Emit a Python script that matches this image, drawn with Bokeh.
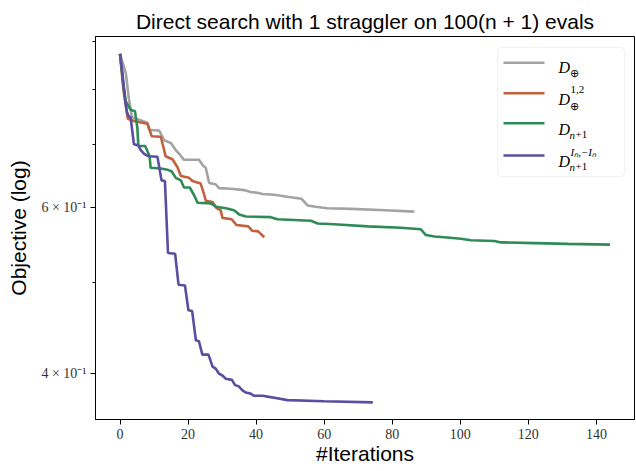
from bokeh.plotting import figure
from bokeh.models import Range1d, FixedTicker, Label, BoxAnnotation, Arrow
from bokeh.embed import file_html
from bokeh.resources import INLINE

# ---- data ----
gray_x = [0, 1.7, 2.6, 3.5, 8.0, 8.6, 11.5, 13.0, 15.0, 16.4, 17.4, 18.8, 23.2, 24.5, 25.2, 26.2, 28.1, 29.1,
          32.6, 36.5, 38.4, 40.4, 41.9, 45.3, 49.2, 53.3, 55.1, 57.5, 61.0, 67.9, 78.0, 86.5]
gray_y = [0.873, 0.833, 0.783, 0.748, 0.738, 0.725, 0.724, 0.707, 0.702, 0.690, 0.684, 0.674, 0.674, 0.664,
          0.661, 0.637, 0.635, 0.629, 0.628, 0.626, 0.623, 0.622, 0.620, 0.619, 0.616, 0.613, 0.603, 0.601,
          0.599, 0.598, 0.596, 0.594]

orange_x = [0, 1.0, 2.3, 4.6, 8.1, 9.3, 12.0, 13.4, 15.4, 16.9, 17.9, 20.3, 21.3, 23.7, 24.7, 25.2, 27.2,
            28.4, 29.6, 30.1, 32.8, 34.2, 37.7, 38.8, 40.6, 42.4]
orange_y = [0.873, 0.800, 0.745, 0.740, 0.736, 0.714, 0.713, 0.680, 0.675, 0.662, 0.648, 0.645, 0.640,
            0.636, 0.620, 0.610, 0.608, 0.599, 0.596, 0.585, 0.583, 0.575, 0.573, 0.567, 0.566, 0.558]

green_x = [0, 1.0, 1.7, 3.2, 4.4, 5.1, 5.4, 7.4, 8.7, 9.0, 12.0, 13.9, 15.2, 16.4, 17.9, 18.8, 20.5, 22.0,
           22.8, 26.7, 28.3, 31.1, 33.5, 35.0, 37.0, 44.3, 46.3, 56.1, 58.1, 62.9, 72.8, 82.6, 88.4, 89.9,
           92.4, 95.3, 100.2, 103.1, 110.0, 112.0, 121.8, 131.6, 144.0]
green_y = [0.873, 0.810, 0.777, 0.761, 0.759, 0.729, 0.697, 0.697, 0.680, 0.661, 0.660, 0.658, 0.655,
           0.645, 0.641, 0.630, 0.630, 0.616, 0.607, 0.606, 0.601, 0.599, 0.596, 0.590, 0.587, 0.586,
           0.583, 0.581, 0.577, 0.576, 0.573, 0.571, 0.569, 0.561, 0.559, 0.558, 0.556, 0.554, 0.553,
           0.551, 0.550, 0.549, 0.548]

purple_x = [0, 0.7, 1.5, 2.0, 2.5, 3.1, 4.1, 5.4, 6.1, 7.1, 8.3, 11.0, 12.2, 13.2, 14.1, 16.2, 17.2, 19.1,
            20.1, 21.2, 22.3, 23.2, 24.2, 26.0, 27.2, 28.1, 29.1, 30.2, 31.1, 32.9, 33.8, 34.8, 36.0, 37.0,
            38.4, 39.4, 41.9, 43.8, 45.8, 49.2, 60.0, 74.3]
purple_y = [0.873, 0.833, 0.780, 0.758, 0.750, 0.748, 0.700, 0.698, 0.690, 0.684, 0.680, 0.679, 0.641,
            0.640, 0.537, 0.536, 0.497, 0.496, 0.467, 0.466, 0.434, 0.433, 0.419, 0.419, 0.407, 0.405,
            0.400, 0.398, 0.395, 0.394, 0.389, 0.388, 0.384, 0.382, 0.381, 0.379, 0.379, 0.378, 0.377,
            0.375, 0.374, 0.373]

x_ticks = [0, 20, 40, 60, 80, 100, 120, 140]
y_ticks = [0.4, 0.6]
y_tick_labels = {0.4: "4 × 10⁻¹", 0.6: "6 × 10⁻¹"}
y_minor = [0.5, 0.7, 0.8, 0.9]

colors = {"gray": "#a3a3a3", "orange": "#c0613f", "green": "#2e8b57", "purple": "#5b4ea0"}

p = figure(width=636, height=471, output_backend="svg", toolbar_location=None,
           x_range=Range1d(-7.2, 151.2), y_range=Range1d(0.3577, 0.9106), y_axis_type="log",
           min_border_left=95, min_border_right=2, min_border_top=36, min_border_bottom=52)

p.title.text = "Direct search with 1 straggler on 100(n + 1) evals"
p.title.text_font = "Liberation Sans"
p.title.text_font_style = "normal"
p.title.text_font_size = "21px"
p.title.align = "center"
p.title.text_color = "#000000"
p.title.standoff = 7

p.grid.visible = False
p.outline_line_color = "#000000"
p.outline_line_width = 1
p.background_fill_color = "white"
p.border_fill_color = "white"

for ax in (p.xaxis[0], p.yaxis[0]):
    ax.axis_line_color = "#000000"
    ax.major_tick_line_color = "#000000"
    ax.minor_tick_line_color = "#000000"
    ax.major_tick_in = 0
    ax.major_tick_out = 5
    ax.minor_tick_in = 0
    ax.minor_tick_out = 3
    ax.major_label_standoff = 4
    ax.major_label_text_font = "Liberation Serif"
    ax.major_label_text_font_size = "14px"
    ax.major_label_text_color = "#333333"
    ax.axis_label_text_font = "Liberation Sans"
    ax.axis_label_text_font_style = "normal"
    ax.axis_label_text_font_size = "21px"
    ax.axis_label_text_color = "#000000"

p.xaxis.ticker = FixedTicker(ticks=x_ticks, minor_ticks=[])
p.yaxis.ticker = FixedTicker(ticks=y_ticks, minor_ticks=y_minor)
p.yaxis.major_label_overrides = y_tick_labels
p.xaxis.axis_label = "#Iterations"
p.yaxis.axis_label = "Objective (log)"
p.xaxis.axis_label_standoff = 0
p.yaxis.axis_label_standoff = 8

lw = 2.6
p.line(gray_x, gray_y, line_color=colors["gray"], line_width=lw)
p.line(orange_x, orange_y, line_color=colors["orange"], line_width=lw)
p.line(green_x, green_y, line_color=colors["green"], line_width=lw)
p.line(purple_x, purple_y, line_color=colors["purple"], line_width=lw)

# ---- legend (frame-relative screen units) ----
box = BoxAnnotation(left=402, right=529, top=372, bottom=243,
                    left_units="screen", right_units="screen", top_units="screen", bottom_units="screen",
                    fill_color="white", fill_alpha=0.85, line_color="#d0d0d0", line_width=1, border_radius=4)
p.add_layout(box)

rows_y = [356.7, 326.3, 296.3, 264.0]
for cname, ry in zip(["gray", "orange", "green", "purple"], rows_y):
    p.add_layout(Arrow(x_start=408, y_start=ry, x_end=449, y_end=ry, start=None, end=None,
                       start_units="screen", end_units="screen",
                       line_color=colors[cname], line_width=lw))

serif = "Liberation Serif"
def lab(x, y, t, size, italic=False):
    p.add_layout(Label(x=x, y=y, x_units="screen", y_units="screen", text=t,
                       text_font=serif, text_font_size=size,
                       text_font_style="italic" if italic else "normal",
                       text_color="#000000", text_baseline="alphabetic", text_align="left"))

# row 1: D_oplus
lab(463, 352, "D", "16px", True)
lab(474, 347, "⊕", "11px")
# row 2: D_oplus^{1,2}
lab(463, 320, "D", "16px", True)
lab(475, 330, "1,2", "11px")
lab(474, 314, "⊕", "11px")
# row 3: D_{n+1}
lab(463, 290, "D", "16px", True)
lab(474, 285, "n", "11px", True)
lab(480, 285, "+1", "11px")
# row 4: D_{n+1}^{I_n,-I_n}
lab(463, 258, "D", "16px", True)
lab(475, 268, "Iₙ,−Iₙ", "11px", True)
lab(474, 253, "n", "11px", True)
lab(480, 253, "+1", "11px")

open("out.html", "w").write(file_html(p, INLINE))
